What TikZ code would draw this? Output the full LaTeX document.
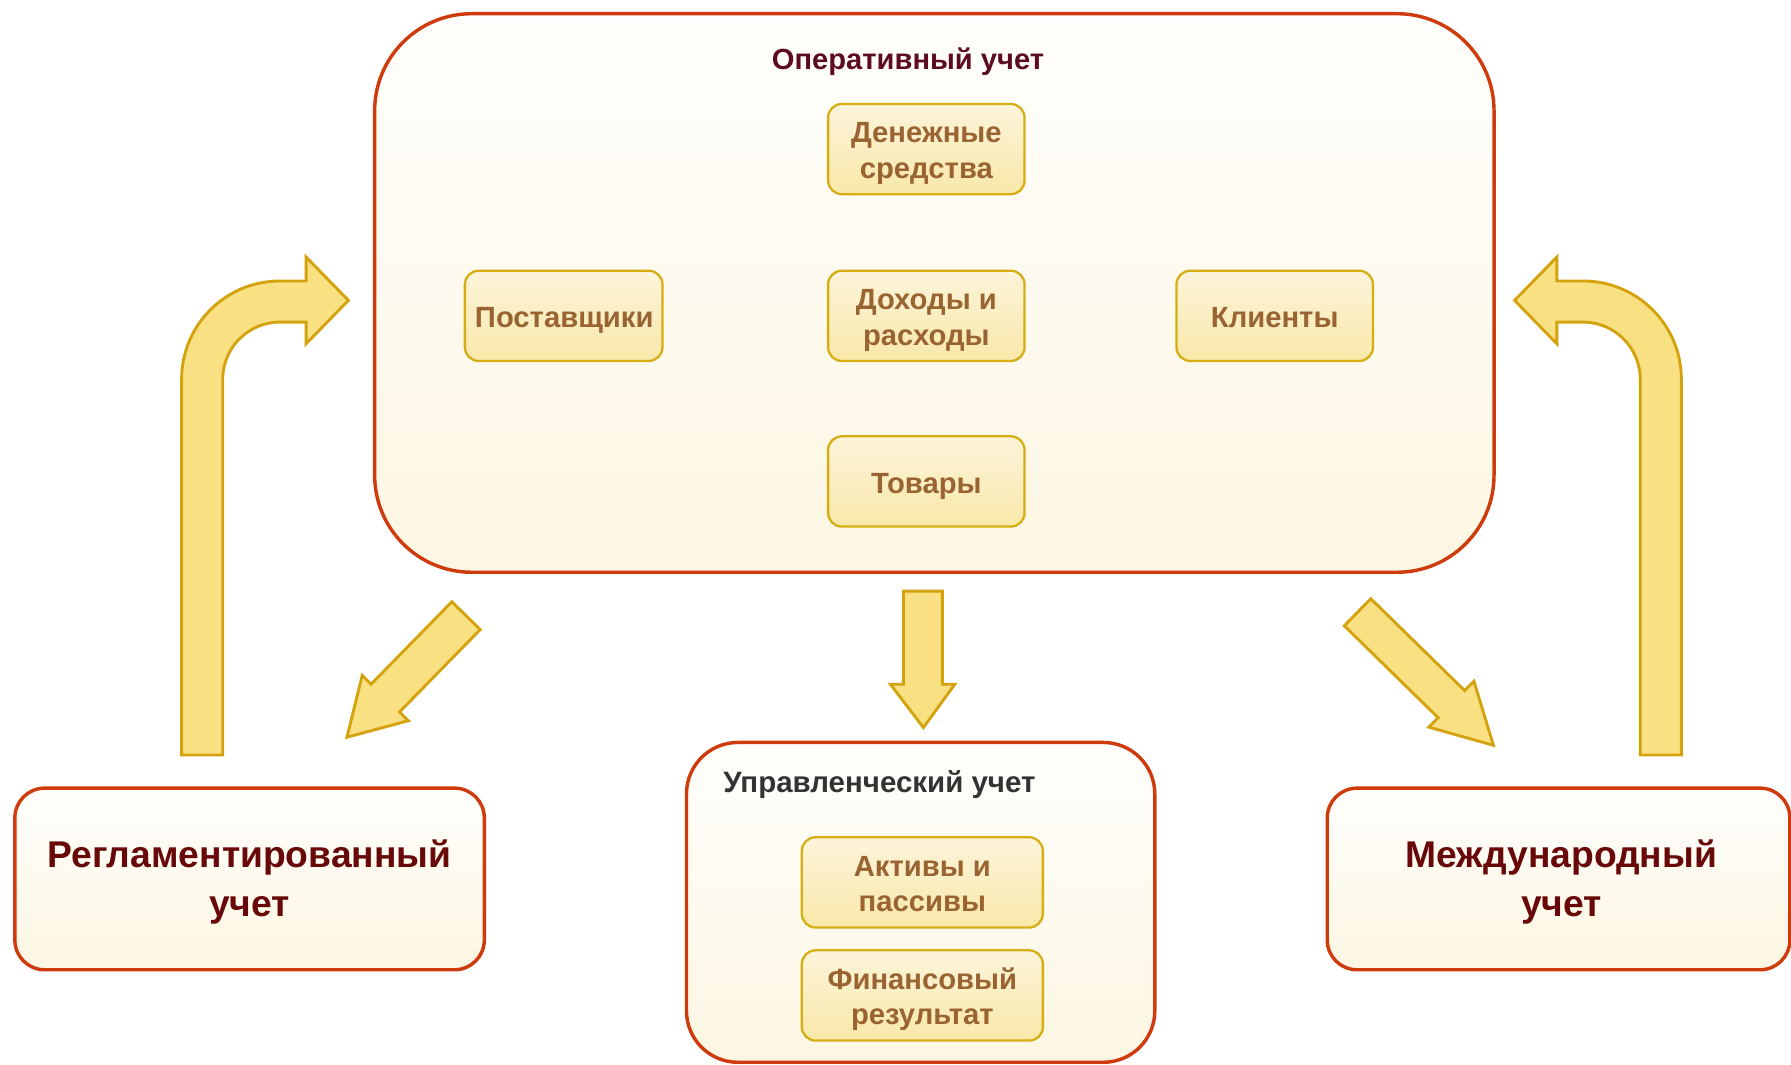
\documentclass[tikz,border=0pt]{standalone}
\usepackage{fontspec}
\setmainfont{Liberation Sans}
\definecolor{redline}{HTML}{CF3B0C}
\definecolor{goldline}{HTML}{D4A20C}
\definecolor{arrowfill}{HTML}{F8E083}
\definecolor{innerline}{HTML}{D6AE14}
\definecolor{innertop}{HTML}{FCF4DA}
\definecolor{innerbot}{HTML}{F9E8A9}
\definecolor{paletop}{HTML}{FFFEFC}
\definecolor{palebot}{HTML}{FCF6E2}
\definecolor{maroon}{HTML}{5C0C1E}
\definecolor{sidetext}{HTML}{680808}
\definecolor{innertext}{HTML}{9A6432}
\definecolor{graytext}{HTML}{333333}
\begin{document}
\begin{tikzpicture}[x=1pt,y=-1pt,
  mainbox/.style={draw=redline, line width=3pt, rounded corners=85pt, top color=paletop, bottom color=palebot, minimum width=980pt, minimum height=489pt, inner sep=0pt},
  sidebox/.style={draw=redline, line width=3pt, rounded corners=26pt, top color=paletop, bottom color=palebot, minimum height=159pt, inner sep=0pt},
  sidetxt/.style={inner sep=0pt, align=center, text=sidetext, font=\bfseries\fontsize{32.6}{43}\selectfont, text height=66.3pt, text depth=0pt},
  mgmtbox/.style={draw=redline, line width=3pt, rounded corners=45pt, top color=paletop, bottom color=palebot, minimum width=410pt, minimum height=280pt, inner sep=0pt},
  innerbox/.style={draw=innerline, line width=2pt, rounded corners=12pt, top color=innertop, bottom color=innerbot, minimum height=79pt, inner sep=0pt},
  innertxt/.style={inner sep=0pt, align=center, text=innertext, font=\bfseries\fontsize{25.6}{31}\selectfont, text height=18.3pt, text depth=0pt},
  innertwo/.style={innertxt, text height=49.3pt},
  boxtitle/.style={inner sep=0pt, text height=18.3pt, text depth=0pt},
  blockarrow/.style={draw=goldline, fill=arrowfill, line width=2.5pt, line join=miter}
]
\useasboundingbox[fill=white] (0,0) rectangle (1568,932);

% main box
\node[mainbox] (oper) at (818,256.5) {};
\node[boxtitle, text=maroon, font=\bfseries\fontsize{25.5}{30}\selectfont] (operT) at (795,51.5) {Оперативный учет};
\node[innerbox, minimum width=172pt] (money) at (811,130.5) {};
\node[innertwo] (moneyT) at (811,131.5) {Денежные\\средства};
\node[innerbox, minimum width=173pt] (supp) at (493.5,276.5) {};
\node[innertxt] (suppT) at (494,277.5) {Поставщики};
\node[innerbox, minimum width=172pt] (inc) at (811,276.5) {};
\node[innertwo] (incT) at (811,277.5) {Доходы и\\расходы};
\node[innerbox, minimum width=172pt] (cli) at (1116,276.5) {};
\node[innertxt] (cliT) at (1116,277.5) {Клиенты};
\node[innerbox, minimum width=172pt] (goods) at (811,421.5) {};
\node[innertxt] (goodsT) at (811,422.5) {Товары};

% bottom boxes
\node[sidebox, minimum width=411pt] (regl) at (218.5,769.5) {};
\node[sidetxt] (reglT) at (218.5,769.5) {Регламентированный\\учет};
\node[sidebox, minimum width=405pt] (intl) at (1364.5,769.5) {};
\node[sidetxt] (intlT) at (1367,769.5) {Международный\\учет};
\node[mgmtbox] (mgmt) at (806,790) {};
\node[boxtitle, text=graytext, anchor=west, font=\bfseries\fontsize{25.8}{30}\selectfont] (mgmtT) at (633,684.5) {Управленческий учет};
\node[innerbox, minimum width=211pt] (act) at (807.5,772.5) {};
\node[innertwo] (actT) at (807.5,773.5) {Активы и\\пассивы};
\node[innerbox, minimum width=211pt] (fin) at (807.5,871.5) {};
\node[innertwo] (finT) at (807.5,872.5) {Финансовый\\результат};

% left curved arrow
\draw[blockarrow] (159,661) -- (159,332)
  .. controls (159,284.5) and (197.5,246) .. (245,246)
  -- (268,246) -- (268,225) -- (305,263) -- (268,301) -- (268,282) -- (245,282)
  .. controls (217.4,282) and (195,304.4) .. (195,332)
  -- (195,661) -- cycle;
% right curved arrow
\draw[blockarrow] (1472,661) -- (1472,332)
  .. controls (1472,284.5) and (1433.5,246) .. (1386,246)
  -- (1363,246) -- (1363,225) -- (1326,263) -- (1363,301) -- (1363,282) -- (1386,282)
  .. controls (1413.6,282) and (1436,304.4) .. (1436,332)
  -- (1436,661) -- cycle;
% down arrow
\draw[blockarrow] (791,517.5) -- (825,517.5) -- (825,599) -- (836,599) -- (808.4,637) -- (779.5,599) -- (791,599) -- cycle;
% left diagonal arrow
\begin{scope}[shift={(408,539)}, rotate=-134.4]
\draw[blockarrow] (0,-17.4) -- (101,-17.4) -- (101,-28.3) -- (149,0) -- (101,28.3) -- (101,17.4) -- (0,17.4) -- cycle;
\end{scope}
% right diagonal arrow
\begin{scope}[shift={(1188.5,536)}, rotate=-44.4]
\draw[blockarrow] (0,-16.6) -- (115,-16.6) -- (115,-28.2) -- (166.5,0) -- (115,28.2) -- (115,16.6) -- (0,16.6) -- cycle;
\end{scope}
\end{tikzpicture}
\end{document}
